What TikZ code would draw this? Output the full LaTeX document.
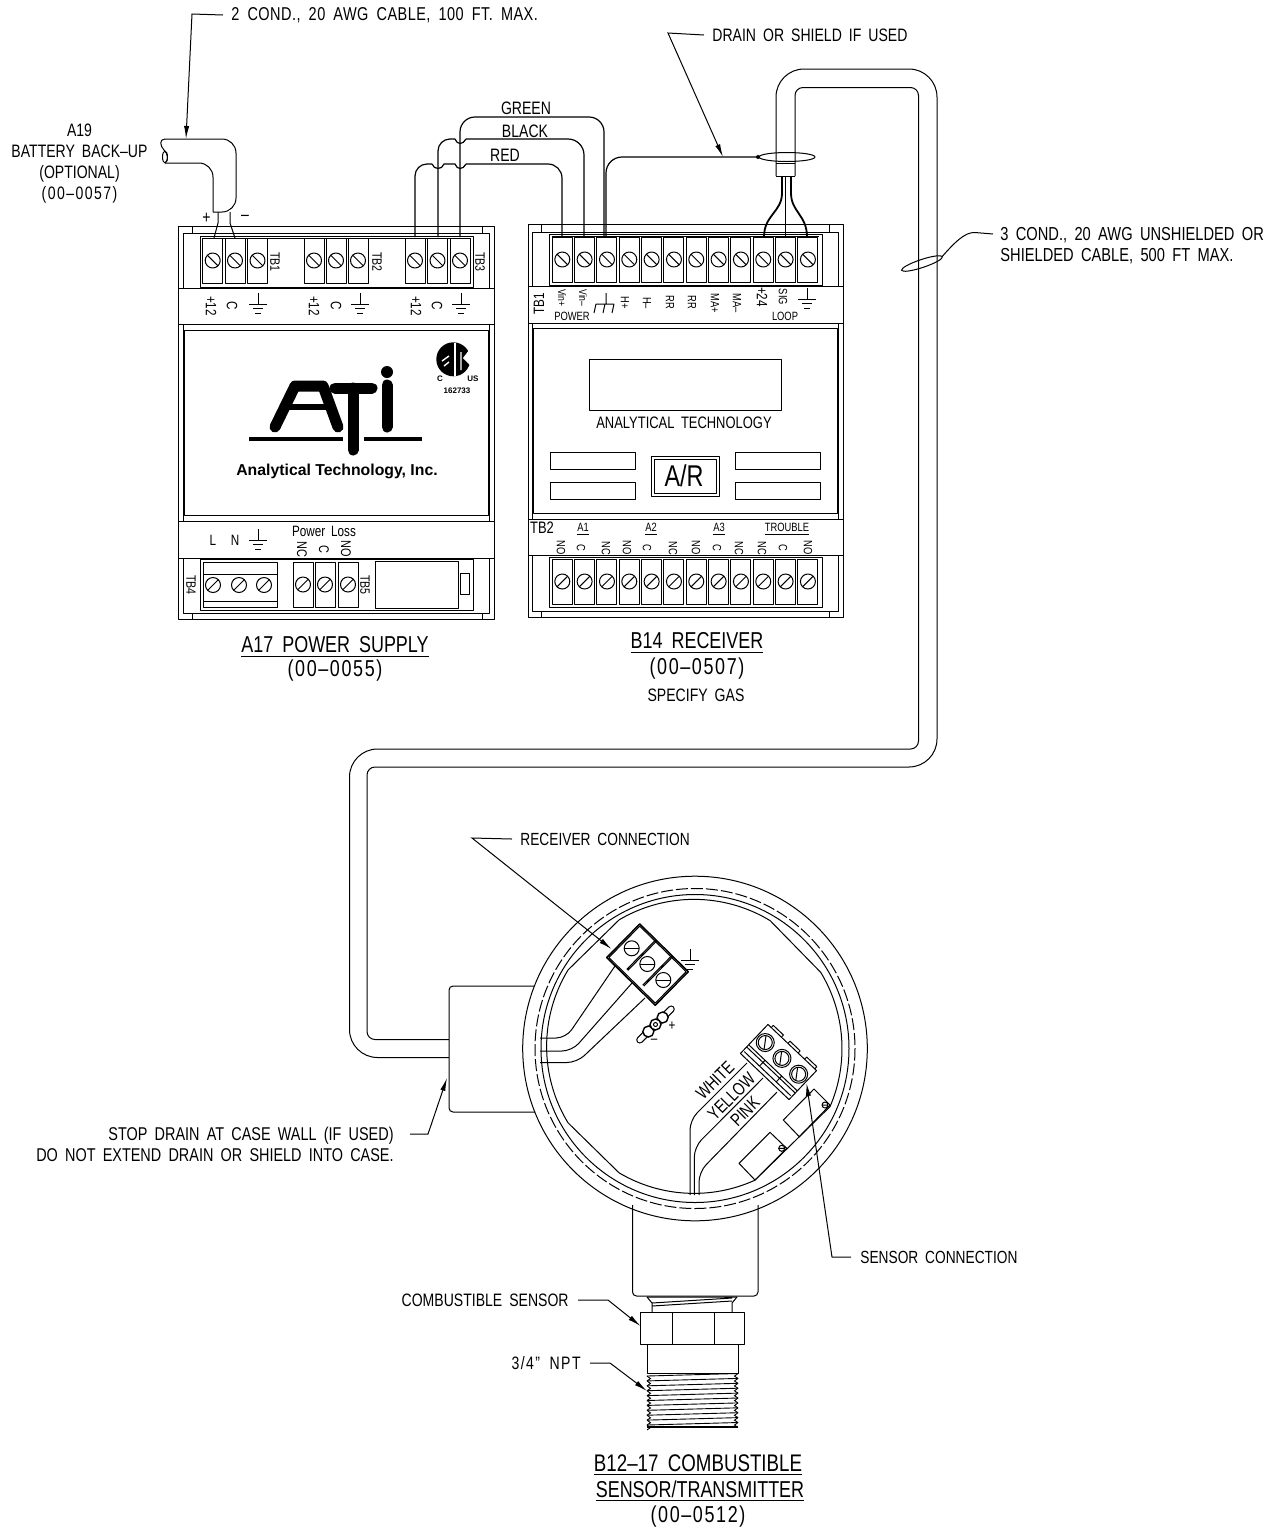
\documentclass[tikz,border=0pt]{standalone}
\usepackage{fontspec}
\usetikzlibrary{arrows.meta}
\setmainfont{Liberation Sans}[FakeStretch=0.78,WordSpace=1.8]
\newfontfamily\logofont{Liberation Sans}

\tikzset{
    line/.style={line width=0.5pt,line join=round},
    wire/.style={line width=0.6pt},
    heavy/.style={line width=0.9pt},
    ldr/.style={line width=0.5pt,-{Latex[length=6.5pt,width=2.6pt]}},
    lbl/.style={inner sep=0pt,font=\fontsize{9}{10.5}\selectfont},
    ttl/.style={inner sep=0pt,font=\fontsize{11.5}{13}\selectfont},
    partlbl/.style={inner sep=0pt,font=\fontsize{11.5}{13}\selectfont\addfontfeature{LetterSpace=7}},
    termlbl/.style={inner sep=0pt,rotate=-90,font=\fontsize{7.5}{8}\selectfont},
    pinlbl/.style={inner sep=0pt,rotate=-90,font=\fontsize{6}{7}\selectfont},
    tinylbl/.style={inner sep=0pt,font=\fontsize{6}{7}\selectfont},
    sidelbl/.style={inner sep=0pt,rotate=-90,font=\fontsize{6.8}{7}\selectfont}
}
\newcommand{\tscrew}[3]{
    \draw[line,fill=white] (#1,#2) circle (7.5);
    \draw[line] (#1,#2) ++(#3:7.5) -- ++(#3+180:15);
}
\newcommand{\tcell}[3]{
    \draw[line] (#1-10,#2-22.5) rectangle (#1+10,#2+22.5);
    \tscrew{#1}{#2}{#3}
}
\newcommand{\tground}[2]{
    \draw[line] (#1,#2) -- ++(0,11) ++(-9,0) -- ++(18,0) ++(-14,4.5) -- ++(10,0) ++(-8,4.5) -- ++(6,0);
}

\begin{document}
\begin{tikzpicture}[x=0.5pt,y=0.5pt,yscale=-1]
    \useasboundingbox (0,0) rectangle (1278,1532);

    % battery cable
    \coordinate (tipcable) at (186,139);
    \coordinate (bendcable) at (192,14);
    \draw[line,rounded corners=7pt] (165,139) -- (236,139) -- (236,212) -- (213,212);
    \draw[line,rounded corners=7pt] (213,212) -- (213,163) -- (165,163);
    \draw[line] (165,139) .. controls (159,139) and (160,146) .. (164,150) .. controls (168,154) and (169,160) .. (165,163);
    \draw[line] (165,157) ellipse (2.5 and 6);
    \draw[line] (218,212) -- (218,223) -- (214,238);
    \draw[line] (230,212) -- (230,223) -- (235,238);
    \node[lbl] (plus) at (206.5,218) {+};
    \node[lbl] (minus) at (245,218) {–};
    \node[lbl,anchor=west,font=\fontsize{9.3}{10.5}\selectfont\addfontfeature{LetterSpace=2.5}] (condtwo) at (231,15) {2 COND., 20 AWG CABLE, 100 FT. MAX.};
    \draw[ldr] (condtwo.west) ++(-8,0) -- (bendcable) -- (tipcable);
    \node[lbl,align=center] (battery) at (79.5,163.5) {A19\\BATTERY BACK–UP\\(OPTIONAL)\\{\addfontfeature{LetterSpace=8}(00–0057)}};

    % wires between the two units
    \draw[wire,rounded corners=6pt] (415,237) -- (415,164) -- (432,164);
    \draw[wire] (432,164) .. controls (434,170) and (442,170) .. (444,164) -- (455,164) .. controls (457,170) and (463,170) .. (466,164);
    \draw[wire,rounded corners=7pt] (466,164) -- (562,164) -- (562,237);
    \draw[wire,rounded corners=6pt] (438,237) -- (438,139) -- (455,139);
    \draw[wire] (455,139) .. controls (457,145) and (463,145) .. (466,139);
    \draw[wire,rounded corners=8pt] (466,139) -- (584,139) -- (584,237);
    \draw[wire,rounded corners=7.5pt] (460,237) -- (460,117) -- (604,117) -- (604,237);
    \node[lbl] (green) at (526,108) {GREEN};
    \node[lbl] (black) at (525,131) {BLACK};
    \node[lbl] (red) at (505,155) {RED};

    % drain and long cable
    \coordinate (tipdrain) at (723,157);
    \coordinate (benddrain) at (668,33);
    \draw[wire,rounded corners=8pt] (606,237) -- (606,157) -- (758,157);
    \fill (758,157) circle (2);
    \draw[line] (787,157) ellipse (28 and 4.5);
    \node[lbl,anchor=west] (drain) at (712,35) {DRAIN OR SHIELD IF USED};
    \draw[ldr] (drain.west) ++(-8,0) -- (benddrain) -- (tipdrain);
    \draw[line,rounded corners=14pt] (776,176) -- (776,69) -- (937,69) -- (937,767) -- (800,767) [rounded corners=4pt] -- (367,767) -- (367,1039.5) -- (449,1039.5);
    \draw[line,rounded corners=4pt] (795,176) -- (795,87.5) -- (918.5,87.5) -- (918.5,749) -- (800,749) [rounded corners=14pt] -- (349.5,749) -- (349.5,1057.5) -- (449,1057.5);
    \draw[line] (776,176) -- (795,176) (776,163) -- (795,163);
    \draw[heavy] (782,176) -- (782,193) .. controls (782,212) and (764,215) .. (764,237);
    \draw[heavy] (791,176) -- (791,193) .. controls (791,212) and (807,215) .. (807,237);
    \draw[line] (785.5,176) -- (785.5,237);
    \draw[line,rotate around={-18.4:(922,263.5)}] (922,263.5) ellipse (21.5 and 4);
    \node[lbl,anchor=west,align=left,font=\fontsize{9.4}{10.5}\selectfont] (condthree) at (1000,245.5) {3 COND., 20 AWG UNSHIELDED OR\\SHIELDED CABLE, 500 FT MAX.};
    \draw[line] (942,256.7) .. controls (955,242) and (965,232) .. (975,232.5) -- (993,234);

    % power supply
    \draw[line] (178.5,226) rectangle (494,619);
    \draw[line] (183,233) rectangle (489,613);
    \foreach \x in {192,482} {
        \draw[line] (\x,226) -- (\x,233) (\x,613) -- (\x,619);
    }
    \draw[line,fill=white] (178.5,288) rectangle (494,324);
    \draw[line,fill=white] (178.5,521) rectangle (494,558);
    \draw[line] (200,236) rectangle (473,287);
    \draw[line] (203,238) -- (470,238);
    \draw[line] (184,330) rectangle (488,515);
    \draw[line] (200,559) rectangle (473,610);
    \foreach \x in {212.7,235,257.5,314,336,358,415,437.5,460} {
        \tcell{\x}{260.5}{45}
    }
    \foreach \x/\t [count=\i] in {275/TB1,377/TB2,480/TB3} {
        \node[sidelbl] (psutb\i) at (\x,262) {\t};
    }
    \foreach \x/\t [count=\i] in {211/+12,232/C,314/+12,336/C,416/+12,437/C} {
        \node[termlbl] (psuterm\i) at (\x,306) {\t};
    }
    \foreach \x in {258,360,461} {
        \tground{\x}{293}
    }
    \node[tinylbl,font=\fontsize{7.5}{8}\selectfont] (lblL) at (213,540) {L};
    \node[tinylbl,font=\fontsize{7.5}{8}\selectfont] (lblN) at (235,540) {N};
    \tground{258}{529}
    \node[tinylbl,font=\fontsize{7.5}{8}\selectfont] (ploss) at (324,531) {Power Loss};
    \foreach \x/\t [count=\i] in {302/NC,324/C,346/NO} {
        \node[pinlbl,font=\fontsize{7}{8}\selectfont] (plpin\i) at (\x,549) {\t};
    }
    \draw[line] (203,562) rectangle (277,607) (203,574) -- (277,574) (203,601) -- (277,601);
    \foreach \x in {213,239,264} {
        \tscrew{\x}{585}{-45}
    }
    \node[sidelbl] (psutbfour) at (191,585) {TB4};
    \foreach \x in {303,325,348} {
        \tcell{\x}{584.5}{-45}
    }
    \node[sidelbl] (psutbfive) at (365,585) {TB5};
    \draw[line] (375,561) rectangle (458,608);
    \draw[line] (460,573) rectangle (469,594);

    % ATI logo
    \draw[line width=5.5pt,line cap=round,line join=round] (275,427) -- (295,386) -- (323,386) -- (338,427);
    \draw[line width=3pt] (288,407) -- (327,407);
    \draw[line width=5.5pt,line cap=round] (335,388) -- (372,388) (353,388) -- (353,450);
    \draw[line width=5.5pt,line cap=round] (387,385) -- (387,427);
    \fill (387,372) circle (6);
    \draw[line width=2pt] (249,439) -- (343,439) (364,439) -- (422,439);
    \node[inner sep=0pt,font=\logofont\bfseries\fontsize{7.9}{8}\selectfont] (atiname) at (337,471) {Analytical Technology, Inc.};
    \fill (453.3,359.3) circle (17);
    \fill[white] (473,345) -- (463,358) -- (473,368) -- cycle;
    \draw[white,line width=0.7pt] (455,343) -- (455,376);
    \draw[white,line width=0.7pt] (442,361) -- (449,356) (449,362) -- (444,366) (461,352) -- (461,370);
    \node[inner sep=0pt,font=\logofont\bfseries\fontsize{4}{5}\selectfont] (csac) at (440,379) {C};
    \node[inner sep=0pt,font=\logofont\bfseries\fontsize{4}{5}\selectfont] (csaus) at (473,379) {US};
    \node[inner sep=0pt,font=\logofont\bfseries\fontsize{4}{5}\selectfont] (csanum) at (457,391) {162733};

    % receiver
    \draw[line] (528,224) rectangle (843,617);
    \draw[line] (532,232) rectangle (838,611);
    \foreach \x in {541,829} {
        \draw[line] (\x,224) -- (\x,232) (\x,611) -- (\x,617);
    }
    \draw[line,fill=white] (528,286) rectangle (843,323);
    \draw[line,fill=white] (528,519) rectangle (843,555);
    \draw[line] (549,234) rectangle (822,285);
    \draw[line] (552,236) -- (819,236);
    \draw[line] (533,328) rectangle (837,513);
    \draw[line] (549,557) rectangle (822,607);
    \foreach \n in {0,...,11} {
        \pgfmathsetmacro{\xt}{562.3+\n*22.33}
        \tcell{\xt}{259.5}{45}
        \tcell{\xt}{581.5}{-45}
    }
    \node[pinlbl,font=\fontsize{7.5}{8}\selectfont,rotate=180] (rxtbone) at (539,304) {TB1};
    \foreach \x/\y/\t [count=\i] in {562/298/Vin+,583/298/Vin–} {
        \node[pinlbl,font=\fontsize{5.5}{6}\selectfont] (rxvin\i) at (\x,\y) {\t};
    }
    \draw[line] (606,293) -- (606,304) (596,304) -- (614,304) (596,304) -- (594,313) (605,304) -- (603,313) (614,304) -- (612,313);
    \foreach \x/\y/\t [count=\i] in {625/303/H+,647/303/H–,670/302/RR,692/302/RR,715/303/MA+,737/303/MA–,783/297/SIG} {
        \node[pinlbl] (rxtop\i) at (\x,\y) {\t};
    }
    \node[termlbl] (rxplus) at (762,297) {+24};
    \tground{807}{288}
    \node[tinylbl] (rxpower) at (572,316) {POWER};
    \node[tinylbl] (rxloop) at (785,316) {LOOP};
    \draw[line] (589,359) rectangle (781,410);
    \node[lbl,font=\fontsize{8.3}{9}\selectfont] (rxname) at (684,423) {ANALYTICAL TECHNOLOGY};
    \foreach \x in {550,735} {
        \draw[line] (\x,452) rectangle ++(85,17);
        \draw[line] (\x,482) rectangle ++(85,17);
    }
    \draw[line] (651,456) rectangle (719,496);
    \draw[line] (654,459) rectangle (716,493);
    \node[inner sep=0pt,font=\fontsize{15}{16}\selectfont] (rxar) at (684,476) {A/R};
    \node[tinylbl,font=\fontsize{8.3}{9}\selectfont] (rxtbtwo) at (542,528) {TB2};
    \foreach \x/\t [count=\i] in {583/A1,651/A2,719/A3,787/TROUBLE} {
        \node[tinylbl] (rxalarm\i) at (\x,529) {\underline{\t}};
    }
    \foreach \x/\t [count=\i] in {561/NO,581/C,606/NC,627/NO,647/C,673/NC,696/NO,717/C,739/NC,762/NC,783/C,808/NO} {
        \node[pinlbl] (rxpin\i) at (\x,548) {\t};
    }

    % unit titles
    \node[ttl] (psuname) at (335,647) {\underline{A17 POWER SUPPLY}};
    \node[partlbl] (psupart) at (335,671) {(00–0055)};
    \node[ttl] (rxtitle) at (697,643) {\underline{B14 RECEIVER}};
    \node[partlbl] (rxpart) at (697,669) {(00–0507)};
    \node[lbl] (rxgas) at (696,695) {SPECIFY GAS};

    % sensor stem and fittings
    \draw[line,rounded corners=2pt] (632.5,1205) -- (632.5,1296) -- (758,1296) -- (758,1205);
    \draw[line] (647,1297) -- (652,1303) -- (652,1312) (737,1297) -- (732,1303) -- (732,1312);
    \draw[line] (647,1297) -- (737,1297) (652,1303) -- (732,1298) (652,1306) -- (732,1301);
    \draw[line] (640.5,1312) rectangle (744,1344);
    \draw[line] (672,1312) -- (672,1344) (714,1312) -- (714,1344);
    \draw[line] (647,1344) rectangle (738.5,1373);
    \foreach \n in {0,...,10} {
        \pgfmathsetmacro{\yt}{1376+\n*4.9}
        \draw[line width=0.45pt] (647,\yt) -- (738,\yt-2.5);
        \draw[line width=0.45pt] (647,\yt) -- (650.5,\yt+2.6) -- (647,\yt+4.9);
        \draw[line width=0.45pt] (738,\yt-2.5) -- (734.5,\yt+0.1) -- (738,\yt+2.4);
    }
    \draw[heavy] (647,1427) -- (738,1427);

    % housing
    \coordinate (hc) at (695,1048.5);
    \draw[line,fill=white] (534,986) [rounded corners=2pt] -- (449,986) -- (449,1112) [sharp corners] -- (535,1112);
    \draw[line] (hc) circle (172.3);
    \draw[line] (hc) circle (154);
    \draw[line,dash pattern=on 6pt off 1.5pt] (hc) circle (160);
    \draw[line] (695,1048.5) ++(-31.2:147) arc[start angle=-31.2,end angle=23.3,radius=147]
        -- ++(-75,73.5) arc[start angle=65.5,end angle=120.7,radius=147]
        -- ++(-51,-50) arc[start angle=148.7,end angle=211.4,radius=147]
        -- ++(51,-50) arc[start angle=239.4,end angle=301.2,radius=147] -- cycle;

    % wires inside the housing
    \draw[line,rounded corners=5pt] (540,1038) -- (566,1038) -- (615,966);
    \draw[line,rounded corners=5pt] (540,1051) -- (572,1051) -- (632,983);
    \draw[line,rounded corners=5pt] (540,1062.5) -- (577,1062.5) -- (645,998);
    \draw[line,rounded corners=5pt] (690,1195) -- (690,1120) -- (747,1063);
    \draw[line,rounded corners=5pt] (694.3,1195) -- (694.3,1147) -- (763,1078);
    \draw[line,rounded corners=5pt] (699,1195) -- (699,1172) -- (777,1092);
    \node[lbl,rotate=45] (white) at (715,1080.5) {WHITE};
    \node[lbl,rotate=45] (yellow) at (731.5,1096.5) {YELLOW};
    \node[lbl,rotate=45] (pink) at (745,1111.5) {PINK};

    % receiver terminal block
    \begin{scope}[shift={(647.5,964.6)},rotate=44.5]
        \draw[line,line width=0.8pt,fill=white] (-34,-23.5) rectangle (34,23.5);
        \draw[line] (-32.5,-22) rectangle (32.5,22);
        \draw[line] (-11.5,-23.5) -- (-11.5,18) (-10,-23.5) -- (-10,18) (11,-23.5) -- (11,18) (12.5,-23.5) -- (12.5,18);
    \end{scope}
    \foreach \x/\y in {631.7/948.3,647.3/964,663.3/980} {
        \tscrew{\x}{\y}{0}
    }
    \tground{690}{949}
    \begin{scope}[shift={(655.5,1024.5)},rotate=-44.5]
        \draw[line width=3.6pt,line cap=round] (-22,0) -- (22,0);
        \draw[white,line width=2.4pt,line cap=round] (-22,0) -- (22,0);
        \draw[line width=0.7pt,fill=white] (-10,0) circle (5.5) (10,0) circle (5.5);
        \draw[line width=0.7pt,fill=white] (0,0) circle (5.5);
        \draw[line] (0,0) circle (2);
    \end{scope}
    \node[tinylbl,font=\fontsize{7.5}{8}\selectfont] (jumpplus) at (672,1026) {+};
    \node[tinylbl,font=\fontsize{7.5}{8}\selectfont] (jumpminus) at (654,1041.5) {–};

    % sensor terminal block
    \begin{scope}[shift={(778.5,1062)},rotate=43.5]
        \foreach \x in {-22,1,24} {
            \draw[line,fill=white] (\x-7,-23) rectangle (\x+7,-18);
        }
        \draw[line,fill=white] (-33.5,-20) rectangle (33.5,20);
        \draw[line] (-33.5,8) -- (33.5,8) (-33.5,11) -- (33.5,11) (-32,16) -- (32,16);
        \draw[line] (-11,8) -- (-11,16) (12,8) -- (12,16);
        \foreach \x in {-23,0,23} {
            \draw[line,fill=white] (\x,-5) circle (9);
            \draw[line] (\x,-5) circle (7);
        }
    \end{scope}
    \foreach \x/\y in {765/1042.7,780.7/1058.3,796.7/1074} {
        \draw[line] (\x,\y) ++(-82:7) -- ++(98:14);
    }

    % sensor boards
    \draw[line] (814,1089) -- (830,1105) -- (799.3,1136.7) -- (783.3,1120) -- cycle;
    \draw[line] (825,1105) circle (3) (822,1105) -- (828,1105);
    \draw[line] (770,1132.3) -- (786.7,1148.3) -- (755,1180) -- (739,1163.3) -- cycle;
    \draw[line] (781.7,1148.3) circle (3) (778.7,1148.3) -- (784.7,1148.3);

    % leaders
    \coordinate (tiprc) at (611.5,949);
    \coordinate (bendrc) at (472,838);
    \node[lbl,anchor=west,font=\fontsize{8.8}{10}\selectfont] (rcconn) at (520,839) {RECEIVER CONNECTION};
    \draw[ldr] (rcconn.west) ++(-8,0) -- (bendrc) -- (tiprc);
    \coordinate (tipsc) at (806.5,1083);
    \coordinate (bendsc) at (832,1257);
    \node[lbl,anchor=west,font=\fontsize{8.8}{10}\selectfont] (snconn) at (860,1257) {SENSOR CONNECTION};
    \draw[ldr] (snconn.west) ++(-9,0) -- (bendsc) -- (tipsc);
    \coordinate (tipcase) at (447,1078);
    \coordinate (bendcase) at (428,1134);
    \node[lbl,anchor=east,align=right,font=\fontsize{9.25}{10.5}\selectfont] (stopdrain) at (394,1144.5) {STOP DRAIN AT CASE WALL (IF USED)\\DO NOT EXTEND DRAIN OR SHIELD INTO CASE.};
    \draw[ldr] (410,1134) -- (bendcase) -- (tipcase);
    \coordinate (tipsn) at (640.5,1326);
    \coordinate (bendsn) at (608,1300);
    \node[lbl,anchor=east] (combsn) at (569,1300) {COMBUSTIBLE SENSOR};
    \draw[ldr] (combsn.east) ++(9,0) -- (bendsn) -- (tipsn);
    \coordinate (tipnpt) at (647,1391);
    \coordinate (bendnpt) at (610,1363);
    \node[lbl,anchor=east,font=\fontsize{9}{10}\selectfont\addfontfeature{LetterSpace=8}] (npt) at (581,1363) {3/4" NPT};
    \draw[ldr] (npt.east) ++(9,0) -- (bendnpt) -- (tipnpt);

    \node[ttl,font=\fontsize{12}{13}\selectfont] (snnameA) at (698,1465) {\underline{B12–17 COMBUSTIBLE}};
    \node[ttl] (snnameB) at (700,1491) {\underline{SENSOR/TRANSMITTER}};
    \node[partlbl] (snpart) at (698,1517) {(00–0512)};
\end{tikzpicture}
\end{document}
